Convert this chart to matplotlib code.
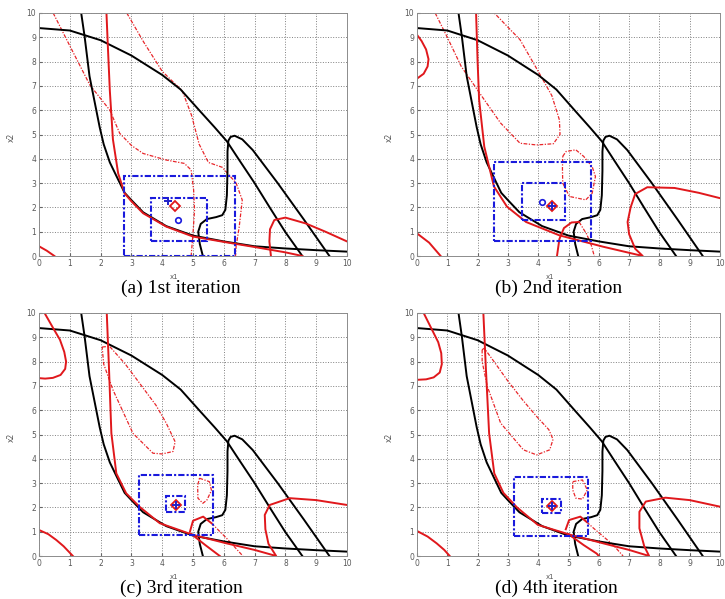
#importing the necessary libraries
import matplotlib
matplotlib.use('Agg')
import matplotlib.pyplot as plt
from matplotlib.patches import Rectangle

#black curves: the true constraint boundaries, same in every panel
black_arc = [(0, 9.38), (1, 9.28), (2, 8.88), (3, 8.25), (4, 7.45), (4.6, 6.85), (5.2, 6.0),
             (5.7, 5.3), (6.1, 4.72), (6.5, 3.95), (7.0, 3.0), (7.5, 1.98), (8.0, 0.98), (8.55, 0)]
black_steep = [(1.37, 10), (1.48, 9.04), (1.64, 7.4), (1.86, 6.0), (1.97, 5.3), (2.1, 4.6), (2.3, 3.85),
               (2.51, 3.3), (2.78, 2.6), (3.0, 2.3), (3.38, 1.8), (4.13, 1.23), (5.0, 0.84), (6.0, 0.6),
               (7.0, 0.4), (8.0, 0.31), (9.0, 0.24), (10, 0.18)]
black_s = [(5.32, 0), (5.22, 0.5), (5.17, 1.0), (5.25, 1.32), (5.45, 1.52), (5.75, 1.6), (5.95, 1.68),
           (6.05, 1.9), (6.1, 2.5), (6.12, 3.5), (6.12, 4.3), (6.15, 4.75), (6.22, 4.9), (6.35, 4.95),
           (6.6, 4.8), (6.94, 4.36), (7.75, 3.0), (8.6, 1.5), (9.43, 0)]
black_curves = [black_arc, black_steep, black_s]

#(a) 1st iteration
red_solid_a = [
    [(2.19, 10), (2.24, 8.5), (2.3, 6.8), (2.4, 4.8), (2.57, 3.4), (2.78, 2.58), (3.0, 2.25), (3.38, 1.76),
     (4.13, 1.21), (5.0, 0.8), (6.0, 0.58), (7.0, 0.37), (8.0, 0.15), (8.55, 0)],
    [(0, 0.4), (0.25, 0.22), (0.5, 0)],
    [(7.53, 0), (7.48, 0.6), (7.5, 1.1), (7.64, 1.48), (8.0, 1.58), (8.66, 1.34), (9.3, 1.0), (10, 0.6)],
]
red_dash_a = [
    [(0.46, 10), (1.0, 8.65), (1.65, 7.04), (2.3, 6.0), (2.62, 5.05), (3.0, 4.55), (3.38, 4.22),
     (4.13, 3.95), (4.72, 3.81), (4.94, 3.54), (5.02, 2.72), (5.05, 1.89), (5.0, 0.93), (4.94, 0)],
    [(2.85, 10), (3.4, 8.8), (4.0, 7.6), (4.65, 6.8), (4.95, 5.8), (5.2, 4.6), (5.5, 3.85), (5.95, 3.65),
     (6.4, 3.0), (6.6, 2.3), (6.5, 1.2), (6.4, 0.4), (6.38, 0)],
]
boxes_a = [(2.75, 0.0, 6.35, 3.3), (3.65, 0.6, 5.45, 2.4)]   # x0, y0, x1, y1
plus_a = (4.18, 2.27)
diamond_a = (4.42, 2.07)
circle_a = (4.51, 1.48)

#(b) 2nd iteration
red_solid_b = [
    [(0, 9.1), (0.15, 8.85), (0.3, 8.5), (0.38, 8.1), (0.35, 7.8), (0.22, 7.5), (0, 7.3)],
    [(0, 0.93), (0.4, 0.55), (0.78, 0)],
    [(1.95, 10), (2.0, 8.0), (2.05, 6.43), (2.22, 4.5), (2.54, 2.86), (2.97, 2.03), (3.6, 1.4), (4.0, 1.2),
     (4.7, 0.85), (5.07, 0.73), (6.15, 0.38), (7.45, 0), (7.2, 0.3), (7.0, 0.9), (6.95, 1.4), (7.05, 2.0),
     (7.2, 2.55), (7.6, 2.83), (8.5, 2.8), (9.3, 2.6), (10, 2.38)],
    [(4.62, 0), (4.7, 0.7), (4.85, 1.15), (5.1, 1.38), (5.35, 1.4)],
]
red_dash_b = [
    [(0.6, 10), (1.0, 9.0), (1.46, 7.8), (2.22, 6.43), (2.76, 5.47), (3.4, 4.64), (3.95, 4.57), (4.5, 4.62),
     (4.72, 5.0), (4.7, 5.6), (4.45, 6.6), (4.0, 7.6), (3.4, 8.9), (2.55, 10)],
    [(4.81, 4.1), (4.92, 4.3), (5.24, 4.37), (5.5, 4.1), (5.78, 3.68), (5.89, 3.27), (5.78, 2.58),
     (5.57, 2.31), (5.03, 2.45), (4.81, 3.0), (4.8, 3.6), (4.81, 4.1)],
    [(5.35, 1.4), (5.6, 0.9), (5.75, 0.45), (5.85, 0)],
]
boxes_b = [(2.54, 0.62, 5.75, 3.85), (3.46, 1.48, 4.89, 2.99)]
plus_b = (4.45, 2.05)
diamond_b = (4.45, 2.05)
circle_b = (4.14, 2.24)

#(c) 3rd iteration
red_solid_c = [
    [(0.18, 10), (0.45, 9.4), (0.68, 8.9), (0.82, 8.4), (0.88, 8.0), (0.85, 7.7), (0.7, 7.45),
     (0.45, 7.33), (0.2, 7.3), (0, 7.32)],
    [(0, 1.07), (0.3, 0.9), (0.56, 0.66), (0.8, 0.4), (0.95, 0.2), (1.1, 0)],
    [(2.2, 10), (2.27, 7.8), (2.35, 5.05), (2.51, 3.4), (2.83, 2.58), (3.26, 2.03), (3.92, 1.35),
     (5.0, 0.87), (6.09, 0.52), (7.0, 0.25), (7.7, 0), (7.45, 0.5), (7.35, 1.1), (7.33, 1.69),
     (7.49, 2.1), (8.14, 2.38), (9.0, 2.3), (10, 2.1)],
    [(4.9, 1.0), (5.0, 1.45), (5.33, 1.62), (5.6, 1.35)],
    [(4.95, 0.9), (5.4, 0.45), (5.87, 0)],
]
red_dash_c = [
    [(2.05, 8.6), (2.29, 8.63), (2.8, 7.9), (3.26, 7.12), (3.8, 6.2), (4.13, 5.47), (4.42, 4.7),
     (4.35, 4.3), (4.0, 4.2), (3.7, 4.23), (3.05, 5.05), (2.4, 6.84), (2.1, 7.9), (2.05, 8.6)],
    [(5.21, 3.2), (5.53, 3.06), (5.6, 2.7), (5.45, 2.3), (5.32, 2.17), (5.16, 2.38), (5.15, 2.9), (5.21, 3.2)],
    [(5.6, 1.35), (6.09, 0.73), (6.62, 0)],
]
boxes_c = [(3.24, 0.87, 5.64, 3.34), (4.11, 1.8, 4.75, 2.45)]
plus_c = (4.45, 2.08)
diamond_c = (4.45, 2.08)

#(d) 4th iteration
red_solid_d = [
    [(0.22, 10), (0.5, 9.3), (0.7, 8.8), (0.8, 8.35), (0.82, 7.9), (0.75, 7.55), (0.55, 7.35),
     (0.3, 7.27), (0, 7.25)],
    [(0, 1.03), (0.35, 0.8), (0.65, 0.52), (0.9, 0.25), (1.08, 0)],
    [(2.19, 10), (2.27, 7.8), (2.38, 5.05), (2.55, 3.4), (2.85, 2.6), (3.3, 2.0), (3.99, 1.28),
     (5.07, 0.87), (6.15, 0.52), (7.0, 0.25), (7.66, 0), (7.5, 0.4), (7.34, 1.14), (7.34, 1.82),
     (7.55, 2.24), (8.2, 2.4), (9.0, 2.3), (10, 2.03)],
    [(4.91, 1.1), (5.02, 1.48), (5.39, 1.62), (5.6, 1.4)],
    [(5.0, 0.9), (5.5, 0.45), (5.93, 0.1), (6.0, 0)],
]
red_dash_d = [
    [(2.15, 8.49), (2.22, 8.55), (2.6, 7.9), (2.97, 7.25), (3.5, 6.4), (3.95, 5.74), (4.35, 5.2),
     (4.49, 4.8), (4.38, 4.37), (3.95, 4.16), (3.51, 4.37), (2.76, 5.47), (2.32, 6.98), (2.15, 8.0), (2.15, 8.49)],
    [(5.14, 3.06), (5.46, 3.13), (5.62, 2.72), (5.46, 2.34), (5.24, 2.38), (5.14, 2.72), (5.14, 3.06)],
    [(5.6, 1.4), (5.83, 1.14), (6.48, 0.45), (6.8, 0)],
]
boxes_d = [(3.21, 0.84, 5.63, 3.27), (4.12, 1.76, 4.76, 2.36)]
plus_d = (4.45, 2.07)
diamond_d = (4.45, 2.07)

titles = ['(a) 1st iteration', '(b) 2nd iteration', '(c) 3rd iteration', '(d) 4th iteration']
ticks = list(range(0, 11))


#draws a list of (x, y) polylines on an axes
def draw_curves(ax, curves, **kw):
    for c in curves:
        xs = [p[0] for p in c]
        ys = [p[1] for p in c]
        ax.plot(xs, ys, solid_joinstyle='round', **kw)


def draw_panel(ax, red_solid, red_dash, boxes, plus=None, diamond=None, circle=None):
    draw_curves(ax, red_dash, color='#e8262a', lw=0.9, ls=(0, (3, 1.2, 1, 1.2)))
    draw_curves(ax, black_curves, color='black', lw=1.4)
    draw_curves(ax, red_solid, color='#e0181c', lw=1.4)
    for (x0, y0, x1, y1) in boxes:
        ax.add_patch(Rectangle((x0, y0), x1 - x0, y1 - y0, fill=False, ec='#1a1adc', lw=1.5,
                               ls=(0, (3, 1, 1, 1)), zorder=4))
    if circle is not None:
        ax.plot(circle[0], circle[1], 'o', ms=4, mfc='none', mec='#1a1adc', mew=1.2, zorder=5)
    if diamond is not None:
        ax.plot(diamond[0], diamond[1], 'D', ms=5, mfc='none', mec='#e0181c', mew=1.3, zorder=5)
    if plus is not None:
        ax.plot(plus[0], plus[1], '+', ms=6, mec='#2020c8', mew=1.4, zorder=6)

    ax.set_xlim(0, 10)
    ax.set_ylim(0, 10)
    ax.set_xticks(ticks)
    ax.set_yticks(ticks)
    ax.grid(True, ls=':', color='0.5', lw=0.7)
    ax.tick_params(direction='in', length=2, labelsize=5.5, labelcolor='0.35', pad=2, color='0.4')
    for s in ax.spines.values():
        s.set_color('0.55')
        s.set_linewidth(0.7)
    ax.set_xlabel('x1', fontsize=5, color='0.35')
    ax.set_ylabel('x2', fontsize=5.5, color='0.35')
    ax.xaxis.set_label_coords(0.44, -0.075)
    ax.yaxis.set_label_coords(-0.075, 0.49)


fig = plt.figure(figsize=(7.25, 5.99), dpi=100)
w = 308 / 725
w_right = 303 / 725   # right column a bit narrower so the "10" label stays inside
h = 243 / 599
ax_a = fig.add_axes([39 / 725, 343 / 599, w, h])
ax_b = fig.add_axes([417 / 725, 343 / 599, w_right, h])
ax_c = fig.add_axes([39 / 725, 43 / 599, w, h])
ax_d = fig.add_axes([417 / 725, 43 / 599, w_right, h])

draw_panel(ax_a, red_solid_a, red_dash_a, boxes_a, plus_a, diamond_a, circle_a)
draw_panel(ax_b, red_solid_b, red_dash_b, boxes_b, plus_b, diamond_b, circle_b)
draw_panel(ax_c, red_solid_c, red_dash_c, boxes_c, plus_c, diamond_c)
draw_panel(ax_d, red_solid_d, red_dash_d, boxes_d, plus_d, diamond_d)

#panel captions under each plot
title_pos = [(0.25, 0.519), (0.771, 0.519), (0.25, 0.018), (0.768, 0.018)]
for t, (tx, ty) in zip(titles, title_pos):
    fig.text(tx, ty, t, ha='center', va='center', fontsize=14, family='Liberation Serif')

fig.savefig('out.png', dpi=100)
